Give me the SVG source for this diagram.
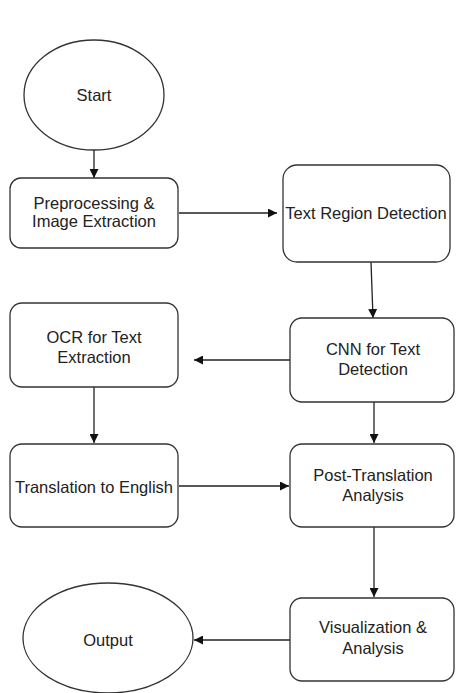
<svg xmlns="http://www.w3.org/2000/svg" width="456" height="693" viewBox="0 0 456 693">
<defs>
<style>
.n{fill:#fff;stroke:#333;stroke-width:1.3}
.t{font-family:"Liberation Sans",Arial,sans-serif;font-size:16.5px;fill:#222;text-anchor:middle}
.c{stroke:#222;stroke-width:1.3;fill:none}
</style>
<marker id="ah" viewBox="0 0 10 10" refX="10" refY="5" markerWidth="9" markerHeight="9" markerUnits="userSpaceOnUse" orient="auto">
<path d="M0,0 L10,5 L0,10 z" fill="#111"/>
</marker>
</defs>
<rect width="456" height="693" fill="#fff"/>
<g id="connectors">
<line class="c" x1="94" y1="150" x2="94" y2="178" marker-end="url(#ah)"/>
<line class="c" x1="179" y1="213" x2="277" y2="213" marker-end="url(#ah)"/>
<line class="c" x1="371" y1="262" x2="373" y2="318" marker-end="url(#ah)"/>
<line class="c" x1="290" y1="360" x2="194" y2="360" marker-end="url(#ah)"/>
<line class="c" x1="94" y1="387" x2="94" y2="443" marker-end="url(#ah)"/>
<line class="c" x1="374" y1="402" x2="374" y2="443" marker-end="url(#ah)"/>
<line class="c" x1="179" y1="486" x2="289" y2="486" marker-end="url(#ah)"/>
<line class="c" x1="374" y1="527" x2="374" y2="597" marker-end="url(#ah)"/>
<line class="c" x1="290" y1="640" x2="194" y2="640" marker-end="url(#ah)"/>
</g>
<g id="start">
<ellipse class="n" cx="94" cy="95" rx="70" ry="55"/>
<text class="t" x="94" y="101">Start</text>
</g>
<g id="preprocessing">
<rect class="n" x="10" y="178" width="168" height="70" rx="11"/>
<text class="t" x="94" y="209">Preprocessing &amp;</text>
<text class="t" x="94" y="227">Image Extraction</text>
</g>
<g id="text-region">
<rect class="n" x="283" y="165" width="167" height="97" rx="14"/>
<text class="t" x="366" y="219">Text Region Detection</text>
</g>
<g id="cnn">
<rect class="n" x="290" y="318" width="164" height="84" rx="12"/>
<text class="t" x="373" y="355">CNN for Text</text>
<text class="t" x="373" y="375">Detection</text>
</g>
<g id="ocr">
<rect class="n" x="10" y="303" width="168" height="84" rx="12"/>
<text class="t" x="94" y="343">OCR for Text</text>
<text class="t" x="94" y="363">Extraction</text>
</g>
<g id="translation">
<rect class="n" x="10" y="444" width="168" height="83" rx="12"/>
<text class="t" x="94" y="493">Translation to English</text>
</g>
<g id="post-translation">
<rect class="n" x="290" y="444" width="164" height="83" rx="12"/>
<text class="t" x="373" y="481">Post-Translation</text>
<text class="t" x="373" y="501">Analysis</text>
</g>
<g id="visualization">
<rect class="n" x="290" y="598" width="164" height="83" rx="12"/>
<text class="t" x="373" y="633">Visualization &amp;</text>
<text class="t" x="373" y="654">Analysis</text>
</g>
<g id="output">
<ellipse class="n" cx="108" cy="638" rx="85" ry="55"/>
<text class="t" x="108" y="646">Output</text>
</g>
</svg>
